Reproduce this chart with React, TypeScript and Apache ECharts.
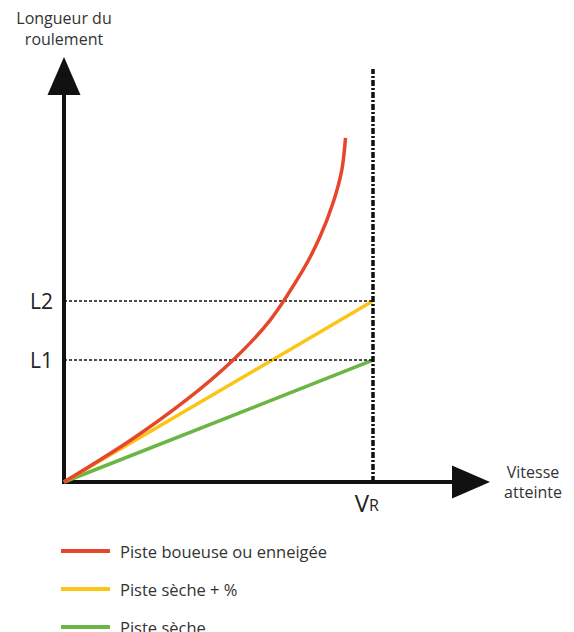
import React, { useEffect, useRef } from "react";
import * as echarts from "echarts";

// Axis positions (data units, 0..100 on both axes)
const VR = 74.6;
const L1 = 29.5;
const L2 = 43.8;

const seriesNames = ["Piste boueuse ou enneigée", "Piste sèche + %", "Piste sèche"];
const seriesColors = ["#e5462c", "#fbc515", "#6bb642"];

// Red curve (muddy / snowy runway)
const redX = [0, 15.9, 29.7, 40.8, 49.8, 57.7, 61.8, 65, 67.1, 68];
const redY = [0, 10.0, 20.0, 29.5, 39.2, 51.3, 59.3, 67.6, 75.5, 83.3];
// Dry runway + %
const yellowX = [0, VR];
const yellowY = [0, L2];
// Dry runway
const greenX = [0, VR];
const greenY = [0, L1];

const yTickValues = [L1, L2];
const yTickLabels = ["L1", "L2"];
const xTickValues = [VR];

const zip = (xs: number[], ys: number[]) => xs.map((x, i) => [x, ys[i]]);

export default function App() {
  const ref = useRef<HTMLDivElement>(null);
  useEffect(() => {
    if (!ref.current) return;
    const chart = echarts.init(ref.current, null, { renderer: "svg" });
    const axisCommon = {
      type: "value",
      min: 0,
      max: 100,
      splitLine: { show: false },
      axisTick: { show: false },
      axisLine: {
        show: true,
        symbol: ["none", "triangle"],
        symbolSize: [33, 38],
        symbolOffset: [0, -7],
        lineStyle: { color: "#111", width: 4, cap: "square" },
      },
    };
    chart.setOption({
      animation: false,
      textStyle: { fontFamily: "Open Sans" },
      grid: { left: 64, right: 96, top: 69, bottom: 150 },
      xAxis: {
        ...axisCommon,
        name: "Vitesse\natteinte",
        nameLocation: "end",
        nameGap: 55,
        nameTextStyle: {
          fontSize: 16,
          color: "#333",
          lineHeight: 20,
          align: "center",
          verticalAlign: "middle",
          padding: [0, 0, 4, 0],
        },
        axisLabel: {
          customValues: xTickValues,
          margin: 8,
          padding: [0, 12, 0, 0],
          formatter: () => "{v|V}{r|R}",
          rich: {
            v: { fontSize: 24, color: "#222", fontFamily: "Open Sans", verticalAlign: "bottom" },
            r: { fontSize: 16, color: "#222", fontFamily: "Open Sans", verticalAlign: "bottom", padding: [0, 0, 1, 0] },
          },
        },
      },
      yAxis: {
        ...axisCommon,
        name: "Longueur du\nroulement",
        nameLocation: "end",
        nameGap: 20,
        nameTextStyle: { fontSize: 16, color: "#333", lineHeight: 21, align: "center" },
        axisLabel: {
          customValues: yTickValues,
          margin: 11,
          fontSize: 21,
          color: "#222",
          formatter: (v: number) => yTickLabels[yTickValues.indexOf(v)] ?? "",
        },
      },
      legend: {
        orient: "vertical",
        left: 61,
        top: 542,
        height: 140,
        padding: 0,
        icon: "rect",
        itemWidth: 49,
        itemHeight: 4,
        itemGap: 20,
        textStyle: { fontSize: 16.5, color: "#333", padding: [0, 0, 0, 5], lineHeight: 18 },
        data: seriesNames,
      },
      series: [
        {
          name: seriesNames[2],
          type: "line",
          data: zip(greenX, greenY),
          symbol: "none",
          color: seriesColors[2],
          lineStyle: { width: 3.5, color: seriesColors[2] },
          z: 3,
          markLine: {
            silent: true,
            symbol: "none",
            label: { show: false },
            lineStyle: { color: "#111", width: 1.5, type: [3, 2] },
            data: [
              [{ coord: [0, L1] }, { coord: [VR, L1] }],
              [{ coord: [0, L2] }, { coord: [VR, L2] }],
            ],
          },
        },
        {
          name: seriesNames[1],
          type: "line",
          data: zip(yellowX, yellowY),
          symbol: "none",
          color: seriesColors[1],
          lineStyle: { width: 3.5, color: seriesColors[1] },
          z: 4,
        },
        {
          name: seriesNames[0],
          type: "line",
          data: zip(redX, redY),
          symbol: "none",
          smooth: 0.3,
          color: seriesColors[0],
          lineStyle: { width: 3.5, color: seriesColors[0] },
          z: 5,
          markLine: {
            silent: true,
            symbol: "none",
            label: { show: false },
            lineStyle: { color: "#111", width: 3.5, type: [6, 2, 2, 2] },
            data: [[{ coord: [VR, 0] }, { coord: [VR, 100] }]],
          },
        },
      ],
    });
    return () => chart.dispose();
  }, []);
  return (
    <div
      ref={ref}
      style={{ position: "fixed", left: 0, top: 0, width: 574, height: 632, background: "#fff" }}
    />
  );
}
